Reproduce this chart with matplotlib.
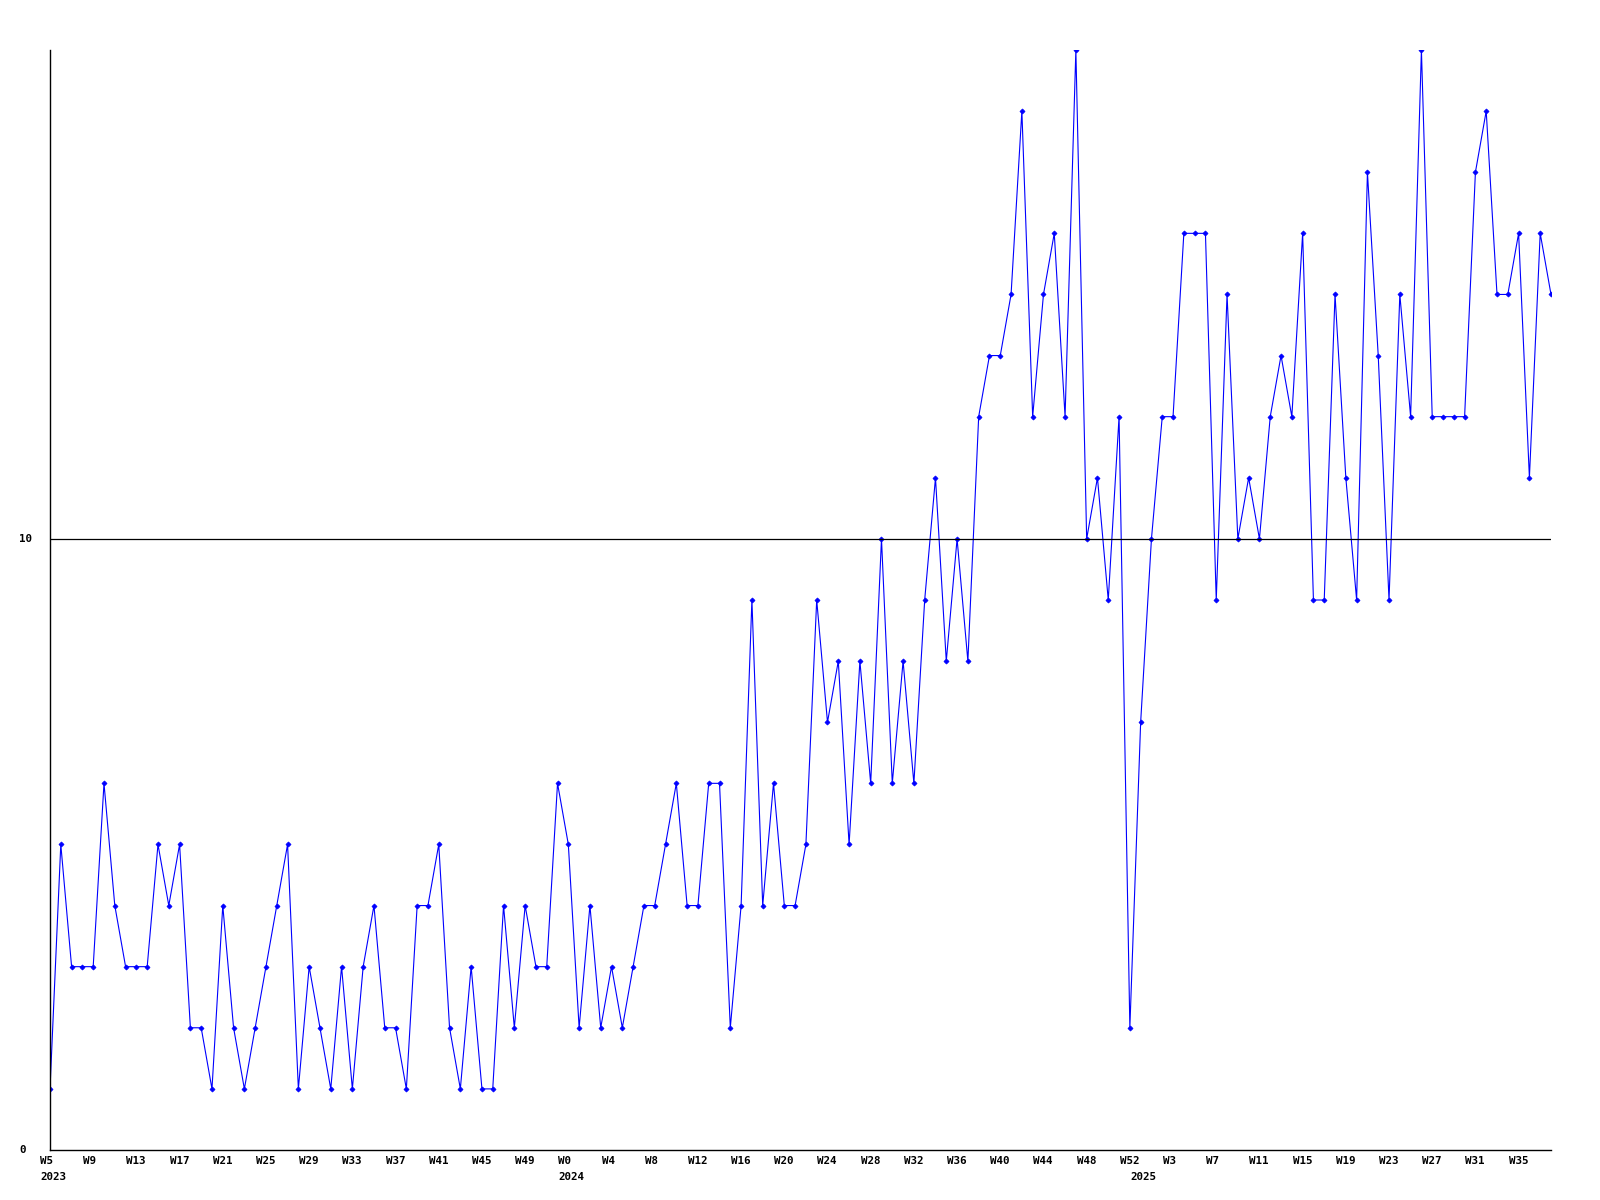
import matplotlib
matplotlib.use("Agg")
import matplotlib.pyplot as plt
from matplotlib.transforms import ScaledTranslation, blended_transform_factory

# weekly values, 2023 W5 .. 2025 W38
values = [1, 5, 3, 3, 3, 6, 4, 3, 3, 3,
          5, 4, 5, 2, 2, 1, 4, 2, 1, 2,
          3, 4, 5, 1, 3, 2, 1, 3, 1, 3,
          4, 2, 2, 1, 4, 4, 5, 2, 1, 3,
          1, 1, 4, 2, 4, 3, 3, 6, 5, 2,
          4, 2, 3, 2, 3, 4, 4, 5, 6, 4,
          4, 6, 6, 2, 4, 9, 4, 6, 4, 4,
          5, 9, 7, 8, 5, 8, 6, 10, 6, 8,
          6, 9, 11, 8, 10, 8, 12, 13, 13, 14,
          17, 12, 14, 15, 12, 18, 10, 11, 9, 12,
          2, 7, 10, 12, 12, 15, 15, 15, 9, 14,
          10, 11, 10, 12, 13, 12, 15, 9, 9, 14,
          11, 9, 16, 13, 9, 14, 12, 18, 12, 12,
          12, 12, 16, 17, 14, 14, 15, 11, 15, 14]

tick_positions = list(range(0, 140, 4))
tick_labels = ["W5", "W9", "W13", "W17", "W21", "W25", "W29", "W33", "W37", "W41",
               "W45", "W49", "W0", "W4", "W8", "W12", "W16", "W20", "W24", "W28",
               "W32", "W36", "W40", "W44", "W48", "W52", "W3", "W7", "W11", "W15",
               "W19", "W23", "W27", "W31", "W35"]
year_positions = [0, 48, 101]
year_labels = ["2023", "2024", "2025"]
ytick_values = [0, 10]

FONT = dict(family="DejaVu Sans Mono", weight="bold", size=7.8)

fig = plt.figure(figsize=(16, 12), dpi=100)
ax = fig.add_axes([50 / 1600, 50 / 1200, (1551 - 50) / 1600, (1150 - 50) / 1200])
x = list(range(len(values)))
ax.plot(x, values, color="#0000ff", linewidth=0.8, marker="D", markersize=2.6,
        markeredgewidth=0.5, markerfacecolor="#0000ff", markeredgecolor="#0000ff")
ax.set_xlim(0, len(values) - 1)
ax.set_ylim(0, 18)
for s in ["top", "right"]:
    ax.spines[s].set_visible(False)
for s in ["left", "bottom"]:
    ax.spines[s].set_linewidth(1.0)
    ax.spines[s].set_color("black")
ax.axhline(10, color="black", linewidth=0.9)

ax.set_xticks(tick_positions)
ax.set_xticklabels(tick_labels, ha="left", **FONT)
ax.tick_params(axis="x", length=0, pad=4.5)
off = ScaledTranslation(-10 / 100, 0, fig.dpi_scale_trans)
for lab in ax.get_xticklabels():
    lab.set_transform(lab.get_transform() + off)

ax.set_yticks(ytick_values)
ax.set_yticklabels([str(v) for v in ytick_values], ha="left", va="center", **FONT)
ax.tick_params(axis="y", length=0, pad=31 * 0.72)

tr = blended_transform_factory(ax.transData, ax.transAxes) + \
    ScaledTranslation(-10 / 100, -22 / 100, fig.dpi_scale_trans)
for p, lab in zip(year_positions, year_labels):
    ax.text(p, 0, lab, transform=tr, ha="left", va="top", **FONT)

fig.savefig("out.png", dpi=100, facecolor="white")
